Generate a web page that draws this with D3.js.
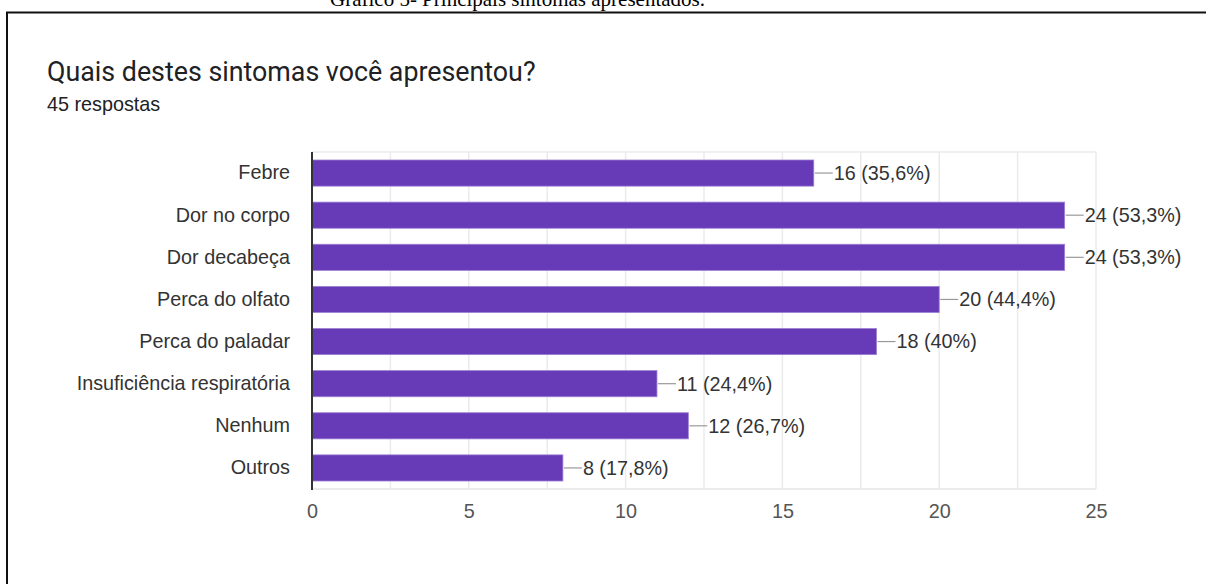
<!DOCTYPE html>
<html>
<head>
<meta charset="utf-8">
<script src="https://cdn.jsdelivr.net/npm/d3@7"></script>
<style>
  html, body { margin: 0; padding: 0; background: #fff; }
  svg { display: block; }
</style>
</head>
<body>
<svg id="chart" width="1206" height="584"></svg>
<script>
// Symptom counts from the survey (45 responses)
const categories = [
  "Febre", "Dor no corpo", "Dor decabeça", "Perca do olfato",
  "Perca do paladar", "Insuficiência respiratória", "Nenhum", "Outros"
];
const counts = [16, 24, 24, 20, 18, 11, 12, 8];
const percentLabels = ["35,6%", "53,3%", "53,3%", "44,4%", "40%", "24,4%", "26,7%", "17,8%"];
const tickValues = [0, 5, 10, 15, 20, 25];
const totalResponses = 45;

const svg = d3.select("#chart");
const sansFont = "'Liberation Sans', Arial, sans-serif";
const labelSize = 19.8;

// Document caption above the framed figure
svg.append("text")
  .attr("x", 330).attr("y", 5.5)
  .attr("font-family", "'Liberation Serif', 'Times New Roman', serif")
  .attr("font-size", 21)
  .attr("fill", "#000")
  .text("Gráfico 5- Principais sintomas apresentados.");

// Frame lines (top and left)
svg.append("line")
  .attr("x1", 6).attr("x2", 1206).attr("y1", 12.5).attr("y2", 12.5)
  .attr("stroke", "#111").attr("stroke-width", 2);
svg.append("line")
  .attr("x1", 7).attr("x2", 7).attr("y1", 12).attr("y2", 584)
  .attr("stroke", "#111").attr("stroke-width", 2);

// Question title and response count
svg.append("text")
  .attr("x", 47).attr("y", 81)
  .attr("font-family", "Roboto, 'Liberation Sans', sans-serif")
  .attr("font-size", 26.8)
  .attr("fill", "#202124")
  .text("Quais destes sintomas você apresentou?");
svg.append("text")
  .attr("x", 47).attr("y", 111)
  .attr("font-family", sansFont)
  .attr("font-size", labelSize)
  .attr("fill", "#202124")
  .text(totalResponses + " respostas");

// Scales
const x = d3.scaleLinear().domain([0, 25]).range([312, 1096]);
const y = d3.scaleBand().domain(categories).range([152, 489])
  .paddingInner(0.38).paddingOuter(0.19);

const plotTop = 152, plotBottom = 489;

// Gridlines every 2.5 units
const gridValues = d3.range(0, 25.001, 2.5);
svg.append("g").selectAll("line")
  .data(gridValues.filter(v => v > 0))
  .join("line")
  .attr("x1", d => x(d)).attr("x2", d => x(d))
  .attr("y1", plotTop).attr("y2", plotBottom)
  .attr("stroke", "#ebebeb").attr("stroke-width", 1.5);
// Plot frame top/bottom
svg.append("line")
  .attr("x1", x(0)).attr("x2", x(25)).attr("y1", plotTop).attr("y2", plotTop)
  .attr("stroke", "#ebebeb").attr("stroke-width", 1.5);
svg.append("line")
  .attr("x1", x(0)).attr("x2", x(25)).attr("y1", plotBottom).attr("y2", plotBottom)
  .attr("stroke", "#ebebeb").attr("stroke-width", 2);

// Bars
const rows = categories.map((c, i) => ({ cat: c, value: counts[i], pct: percentLabels[i] }));
svg.append("g").selectAll("rect")
  .data(rows)
  .join("rect")
  .attr("x", x(0))
  .attr("y", d => y(d.cat))
  .attr("width", d => x(d.value) - x(0))
  .attr("height", y.bandwidth())
  .attr("fill", "#673ab7")
  .attr("stroke", "#9b7fd3")
  .attr("stroke-width", 0.8);

// Leader lines and value labels
const labels = svg.append("g");
labels.selectAll("line")
  .data(rows)
  .join("line")
  .attr("x1", d => x(d.value) + 1)
  .attr("x2", d => x(d.value) + 19)
  .attr("y1", d => y(d.cat) + y.bandwidth() / 2)
  .attr("y2", d => y(d.cat) + y.bandwidth() / 2)
  .attr("stroke", "#999").attr("stroke-width", 1.2);
labels.selectAll("text")
  .data(rows)
  .join("text")
  .attr("x", d => x(d.value) + 20)
  .attr("y", d => y(d.cat) + y.bandwidth() / 2)
  .attr("dy", "0.35em")
  .attr("font-family", sansFont)
  .attr("font-size", labelSize)
  .attr("fill", "#333")
  .text(d => `${d.value} (${d.pct})`);

// Category axis
const yAxis = svg.append("g")
  .attr("transform", `translate(${x(0)},0)`)
  .call(d3.axisLeft(y).tickSize(0).tickPadding(22));
yAxis.select(".domain").remove();
yAxis.selectAll("text")
  .attr("font-family", sansFont)
  .attr("font-size", labelSize)
  .attr("fill", "#333");
svg.append("line")
  .attr("x1", x(0)).attr("x2", x(0))
  .attr("y1", plotTop).attr("y2", plotBottom + 1)
  .attr("stroke", "#333").attr("stroke-width", 2);

// Value axis
const xAxis = svg.append("g")
  .attr("transform", `translate(0,${plotBottom})`)
  .call(d3.axisBottom(x).tickValues(tickValues).tickSize(0).tickPadding(15));
xAxis.select(".domain").remove();
xAxis.selectAll("text")
  .attr("font-family", sansFont)
  .attr("font-size", labelSize)
  .attr("fill", "#555");
</script>
</body>
</html>
